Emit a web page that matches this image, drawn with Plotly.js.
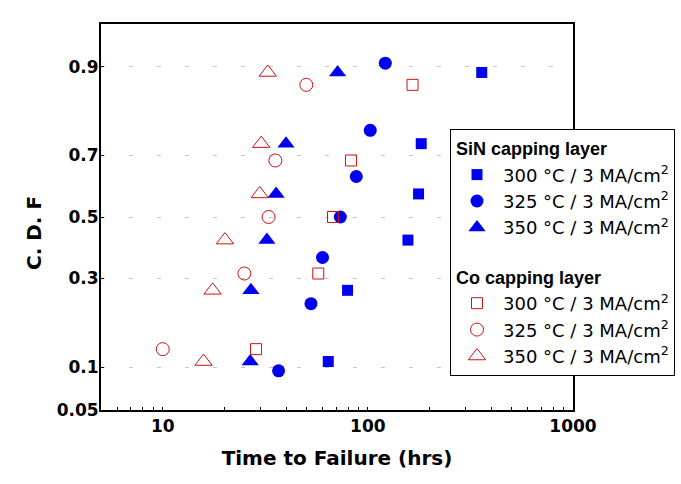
<!DOCTYPE html>
<html><head><meta charset="utf-8">
<script src="https://cdn.plot.ly/plotly-3.0.1.min.js"></script>
<style>html,body{margin:0;padding:0;background:#fff}</style>
</head><body><div id="chart" style="width:681px;height:484px"></div>
<script>
// ---- data (time to failure, hrs / cumulative fraction) ----
const sin300_t = [64.1, 79.6, 156.8, 176.6, 182.0, 359.0];
const sin300_F = [0.109, 0.266, 0.422, 0.578, 0.734, 0.891];
const sin325_t = [36.7, 52.8, 60.1, 73.4, 87.8, 102.7, 121.6];
const sin325_F = [0.095, 0.230, 0.365, 0.500, 0.635, 0.770, 0.905];
const sin350_t = [26.7, 26.9, 32.2, 35.7, 39.9, 71.2];
const sin350_F = [0.109, 0.266, 0.422, 0.578, 0.734, 0.891];
const co300_t = [28.5, 57.3, 67.6, 82.7, 165.1];
const co300_F = [0.130, 0.315, 0.500, 0.685, 0.870];
const co325_t = [10.0, 25.0, 32.8, 35.4, 50.1];
const co325_F = [0.130, 0.315, 0.500, 0.685, 0.870];
const co350_t = [15.8, 17.5, 20.1, 29.7, 30.2, 32.5];
const co350_F = [0.109, 0.266, 0.422, 0.578, 0.734, 0.891];

const yTickVals = [0.05, 0.1, 0.3, 0.5, 0.7, 0.9];
const yTickText = ['0.05', '0.1', '0.3', '0.5', '0.7', '0.9'];
const xTickVals = [10, 100, 1000];
const xTickText = ['10', '100', '1000'];
const xMinorVals = [5,6,7,8,9,20,30,40,50,60,70,80,90,200,300,400,500,600,700,800,900];
const legendNames = ['300 °C / 3 MA/cm<sup>2</sup>', '325 °C / 3 MA/cm<sup>2</sup>', '350 °C / 3 MA/cm<sup>2</sup>'];

// normal-probability scale: inverse standard normal CDF (Acklam)
function probit(p) {
  const a = [-3.969683028665376e+01, 2.209460984245205e+02, -2.759285104469687e+02, 1.383577518672690e+02, -3.066479806614716e+01, 2.506628277459239e+00];
  const b = [-5.447609879822406e+01, 1.615858368580409e+02, -1.556989798598866e+02, 6.680131188771972e+01, -1.328068155288572e+01];
  const c = [-7.784894002430293e-03, -3.223964580411365e-01, -2.400758277161838e+00, -2.549732539343734e+00, 4.374664141464968e+00, 2.938163982698783e+00];
  const d = [7.784695709041462e-03, 3.224671290700398e-01, 2.445134137142996e+00, 3.754408661907416e+00];
  const pl = 0.02425, ph = 1 - pl;
  let q, r;
  if (p < pl) { q = Math.sqrt(-2 * Math.log(p)); return (((((c[0]*q+c[1])*q+c[2])*q+c[3])*q+c[4])*q+c[5]) / ((((d[0]*q+d[1])*q+d[2])*q+d[3])*q+1); }
  if (p <= ph) { q = p - 0.5; r = q*q; return (((((a[0]*r+a[1])*r+a[2])*r+a[3])*r+a[4])*r+a[5])*q / (((((b[0]*r+b[1])*r+b[2])*r+b[3])*r+b[4])*r+1); }
  q = Math.sqrt(-2 * Math.log(1 - p)); return -(((((c[0]*q+c[1])*q+c[2])*q+c[3])*q+c[4])*q+c[5]) / ((((d[0]*q+d[1])*q+d[2])*q+d[3])*q+1);
}
const z = arr => arr.map(probit);

const BLUE = '#0000f0', RED = '#d01010';
const groupTitleFont = {family: 'Liberation Sans, Arial, sans-serif', size: 18, weight: 'bold', color: '#000'};

function tr(t, F, name, symbol, size, color, group, title, open) {
  const o = {
    x: t, y: z(F), type: 'scatter', mode: 'markers', name: name,
    legendgroup: group,
    marker: {symbol: symbol, size: size, color: color, line: {width: open ? 1 : 0, color: color}},
    hoverinfo: 'skip'
  };
  if (title) o.legendgrouptitle = {text: title, font: groupTitleFont};
  return o;
}

const traces = [
  tr(sin300_t, sin300_F, legendNames[0], 'square', 11, BLUE, 'sin', 'SiN capping layer', false),
  tr(sin325_t, sin325_F, legendNames[1], 'circle', 13, BLUE, 'sin', null, false),
  tr(sin350_t, sin350_F, legendNames[2], 'triangle-up', 15, BLUE, 'sin', null, false),
  tr(co300_t, co300_F, legendNames[0], 'square-open', 11, RED, 'co', 'Co capping layer', true),
  tr(co325_t, co325_F, legendNames[1], 'circle-open', 13, RED, 'co', null, true),
  tr(co350_t, co350_F, legendNames[2], 'triangle-up-open', 15, RED, 'co', null, true)
];

const tickFont = {family: 'DejaVu Sans, sans-serif', size: 17, weight: 'bold', color: '#000'};
const layout = {
  width: 681, height: 484,
  margin: {l: 101, r: 108, t: 24, b: 74, autoexpand: false},
  paper_bgcolor: '#fff', plot_bgcolor: '#fff',
  showlegend: true,
  xaxis: {
    type: 'log', range: [Math.log10(5), 3],
    tickmode: 'array', tickvals: xTickVals, ticktext: xTickText,
    ticks: 'inside', ticklen: 3, tickwidth: 1, tickcolor: '#000',
    minor: {tickmode: 'array', tickvals: xMinorVals, ticks: 'inside', ticklen: 3, tickwidth: 1, tickcolor: '#000', showgrid: false},
    showgrid: false, zeroline: false,
    showline: true, linecolor: '#000', linewidth: 2, mirror: true,
    tickfont: tickFont,
    title: {text: 'Time to Failure (hrs)', font: {family: 'DejaVu Sans, sans-serif', size: 20, weight: 'bold', color: '#000'}, standoff: 16}
  },
  yaxis: {
    type: 'linear', range: [probit(0.05), probit(0.95)],
    tickmode: 'array', tickvals: z(yTickVals), ticktext: yTickText,
    ticks: 'inside', ticklen: 3, tickwidth: 1, tickcolor: '#000',
    ticklabelstandoff: -3,
    showgrid: true, gridcolor: '#c8c8c8', gridwidth: 1, griddash: '4px,24px',
    zeroline: false,
    showline: true, linecolor: '#000', linewidth: 2, mirror: true,
    tickfont: tickFont
  },
  annotations: [{
    text: 'C. D. F', textangle: -90, showarrow: false,
    xref: 'paper', yref: 'paper', x: (34 - 101) / 472, y: (410 - 233) / 386,
    xanchor: 'center', yanchor: 'middle',
    font: {family: 'DejaVu Sans, sans-serif', size: 20, weight: 'bold', color: '#000'}
  }],
  legend: {
    x: (450 - 101) / 472, y: (410 - 129) / 386, xanchor: 'left', yanchor: 'top',
    bgcolor: '#fff', bordercolor: '#000', borderwidth: 1,
    font: {family: 'DejaVu Sans, sans-serif', size: 18, color: '#000'},
    tracegroupgap: 23, traceorder: 'grouped', itemwidth: 42
  }
};

Plotly.newPlot('chart', traces, layout, {displayModeBar: false, staticPlot: true});
</script>
</body></html>
